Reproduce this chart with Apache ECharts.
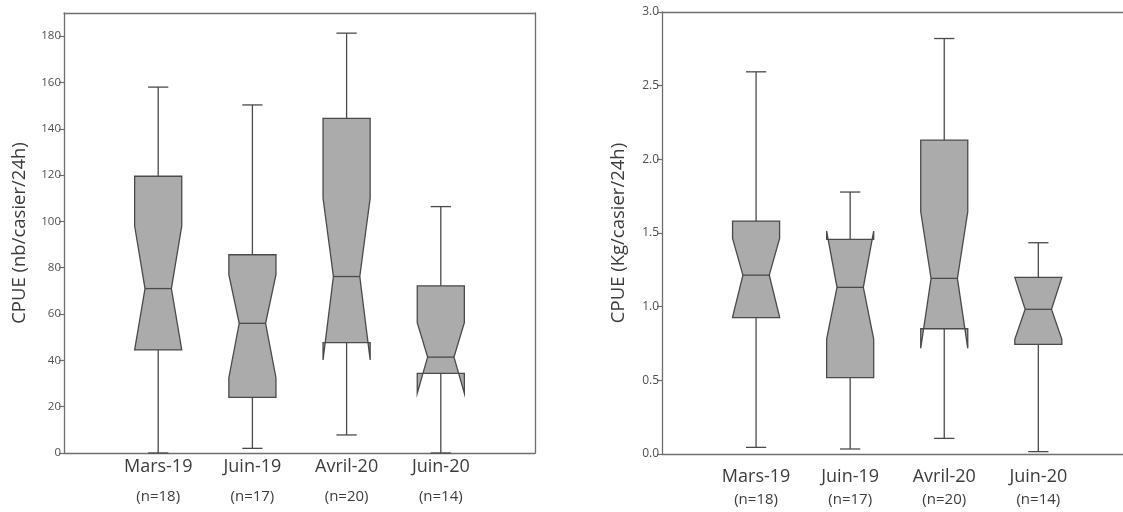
<!DOCTYPE html>
<html>
<head>
<meta charset="utf-8">
<script src="https://cdn.jsdelivr.net/npm/echarts@6/dist/echarts.min.js"></script>
<style>
  html, body { margin: 0; padding: 0; background: #fff; }
  #chart { width: 1123px; height: 512px; }
</style>
</head>
<body>
<div id="chart"></div>
<script>
// Sampling campaigns and number of traps per campaign
const categories = ['Mars-19', 'Juin-19', 'Avril-20', 'Juin-20'];
const sampleSizes = [18, 17, 20, 14];

// Each row: [lower whisker, Q1, notch low, median, notch high, Q3, upper whisker]
const countStats = [
  [0,    44.5, 44.5, 71.0, 98.0,  119.5, 158.0],
  [2,    24.0, 32.5, 56.0, 77.0,  85.6,  150.3],
  [7.8,  47.7, 40.2, 76.2, 110.0, 144.5, 181.3],
  [0,    34.4, 25.8, 41.4, 56.3,  72.2,  106.4]
];
const weightStats = [
  [0.045, 0.925, 0.93,  1.214, 1.463, 1.581, 2.594],
  [0.034, 0.518, 0.780, 1.131, 1.513, 1.457, 1.778],
  [0.106, 0.850, 0.717, 1.192, 1.644, 2.130, 2.820],
  [0.016, 0.744, 0.778, 0.982, 1.199, 1.199, 1.434]
];

const countTicks = [0, 20, 40, 60, 80, 100, 120, 140, 160, 180];
const weightTicks = [0, 0.5, 1.0, 1.5, 2.0, 2.5, 3.0];

const countTitle = 'CPUE (nb/casier/24h)';
const weightTitle = 'CPUE (Kg/casier/24h)';

const FONT = 'Open Sans';
const LINE = '#4a4a4a';
const FILL = '#ababab';
const FRAME = '#6e6e6e';
const TEXT = '#3c3c3c';

// campaign slots sit at x = 1..4 on each panel's horizontal scale
const slots = categories.map((c, i) => i + 1);

function renderNotchedBox(params, api) {
  const xi = api.value(0);
  const pt = (i) => api.coord([xi, api.value(i)]);
  const cx = pt(4)[0];
  const y = (i) => pt(i)[1];
  const wLo = y(1), q1 = y(2), nLo = y(3), med = y(4), nHi = y(5), q3 = y(6), wHi = y(7);
  const half = api.size([1, 0])[0] * 0.25;
  const inner = half * 0.56;
  const cap = half * 0.43;
  const L = cx - half, R = cx + half, iL = cx - inner, iR = cx + inner;
  const lineStyle = { stroke: LINE, lineWidth: 1.3 };
  return {
    type: 'group',
    children: [
      { type: 'line', shape: { x1: cx, y1: wHi, x2: cx, y2: q3 }, style: lineStyle },
      { type: 'line', shape: { x1: cx - cap, y1: wHi, x2: cx + cap, y2: wHi }, style: lineStyle },
      { type: 'line', shape: { x1: cx, y1: q1, x2: cx, y2: wLo }, style: lineStyle },
      { type: 'line', shape: { x1: cx - cap, y1: wLo, x2: cx + cap, y2: wLo }, style: lineStyle },
      {
        type: 'polygon',
        shape: {
          points: [
            [L, q3], [L, nHi], [iL, med], [L, nLo], [L, q1],
            [R, q1], [R, nLo], [iR, med], [R, nHi], [R, q3]
          ]
        },
        style: { fill: FILL, stroke: LINE, lineWidth: 1.3, lineJoin: 'miter' }
      },
      { type: 'line', shape: { x1: iL, y1: med, x2: iR, y2: med }, style: lineStyle }
    ]
  };
}

function boxData(stats) {
  return stats.map((s, i) => [slots[i]].concat(s));
}

function xAxisFor(gridIndex, xMax, margin, h1, h2) {
  return {
    type: 'value',
    gridIndex: gridIndex,
    min: 0,
    max: xMax,
    interval: 1,
    axisLine: { show: true, onZero: false, lineStyle: { color: FRAME, width: 1.3 } },
    axisTick: { show: false },
    splitLine: { show: false },
    axisLabel: {
      customValues: slots,
      margin: margin,
      formatter: (value) => {
        const i = Math.round(value) - 1;
        if (i < 0 || i >= categories.length) return '';
        return '{a|' + categories[i] + '}\n{b|(n=' + sampleSizes[i] + ')}';
      },
      rich: {
        a: { fontFamily: FONT, fontSize: 18, color: TEXT, lineHeight: h1 },
        b: { fontFamily: FONT, fontSize: 15, color: TEXT, lineHeight: h2 }
      }
    }
  };
}

// bare line along the top edge of a panel
function topEdge(gridIndex, xMax) {
  return {
    type: 'value',
    gridIndex: gridIndex,
    position: 'top',
    min: 0,
    max: xMax,
    axisLine: { show: true, onZero: false, lineStyle: { color: FRAME, width: 1.3 } },
    axisTick: { show: false },
    axisLabel: { show: false },
    splitLine: { show: false }
  };
}

function yAxisFor(gridIndex, ticks, yMax, step, title, nameGap, labelSize, fmt) {
  return {
    type: 'value',
    gridIndex: gridIndex,
    min: ticks[0],
    max: yMax,
    interval: step,
    name: title,
    nameLocation: 'middle',
    nameGap: nameGap,
    nameTextStyle: { fontFamily: FONT, fontSize: 18.5, color: TEXT },
    axisLine: { show: true, onZero: false, lineStyle: { color: FRAME, width: 1.3 } },
    axisTick: { show: true, length: 5, customValues: ticks, lineStyle: { color: FRAME, width: 1.2 } },
    splitLine: { show: false },
    axisLabel: {
      customValues: ticks,
      margin: 3,
      fontFamily: FONT,
      fontSize: labelSize,
      color: '#505050',
      formatter: fmt
    }
  };
}

// right-hand border only on the first panel
function rightEdge(gridIndex) {
  return {
    type: 'value',
    gridIndex: gridIndex,
    position: 'right',
    min: 0,
    max: 1,
    axisLine: { show: true, onZero: false, lineStyle: { color: FRAME, width: 1.3 } },
    axisTick: { show: false },
    axisLabel: { show: false },
    splitLine: { show: false }
  };
}

const chart = echarts.init(document.getElementById('chart'), null, { renderer: 'canvas' });
chart.setOption({
  backgroundColor: '#fff',
  animation: false,
  grid: [
    { left: 64, right: 588, top: 13, bottom: 59 },
    { left: 662, right: 0, top: 12, bottom: 58 }
  ],
  xAxis: [
    xAxisFor(0, 5, 4, 20, 40),
    xAxisFor(1, 4.9, 12, 22, 24),
    topEdge(0, 5),
    topEdge(1, 4.9)
  ],
  yAxis: [
    yAxisFor(0, countTicks, 190, 20, countTitle, 35, 11.5, (v) => String(v)),
    yAxisFor(1, weightTicks, 3, 0.5, weightTitle, 34, 12, (v) => v.toFixed(1)),
    rightEdge(0)
  ],
  series: [
    {
      type: 'custom',
      xAxisIndex: 0, yAxisIndex: 0,
      renderItem: renderNotchedBox,
      encode: { x: 0, y: [1, 2, 3, 4, 5, 6, 7] },
      data: boxData(countStats)
    },
    {
      type: 'custom',
      xAxisIndex: 1, yAxisIndex: 1,
      renderItem: renderNotchedBox,
      encode: { x: 0, y: [1, 2, 3, 4, 5, 6, 7] },
      data: boxData(weightStats)
    }
  ]
});
</script>
</body>
</html>
